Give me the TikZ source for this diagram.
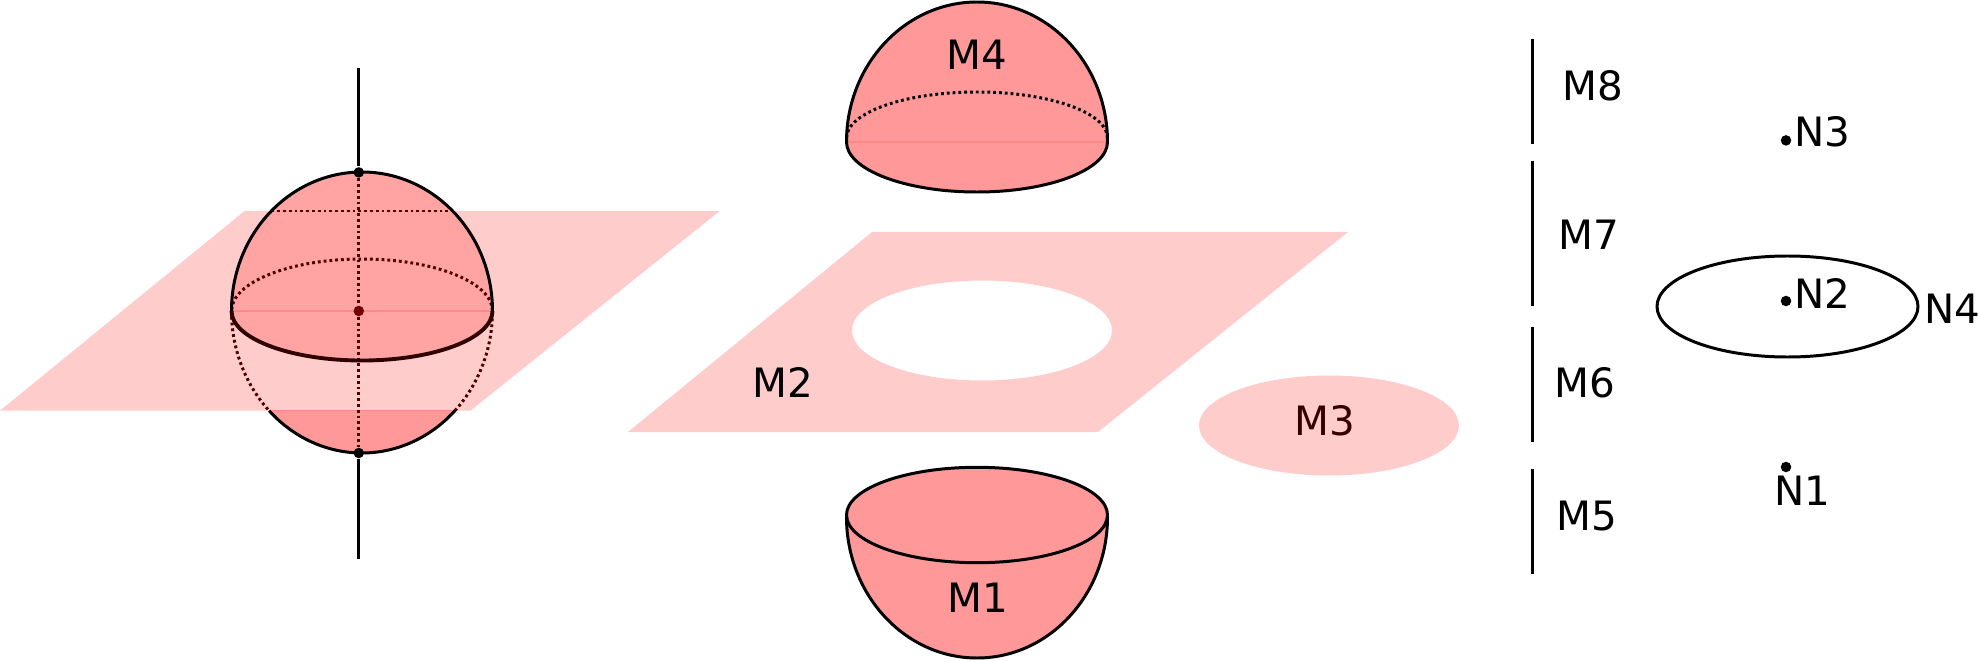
\documentclass[tikz,border=0pt]{standalone}
\usepackage{fontspec}
\setmainfont{DejaVu Sans}
\definecolor{sheet}{HTML}{FFCCCC}
\definecolor{solid part}{HTML}{FF9999}
\definecolor{overlap}{HTML}{FFA3A3}
\definecolor{seam}{HTML}{FF8888}
\definecolor{hidden}{HTML}{4D0000}
\tikzset{
  outline/.style={line width=0.85pt},
  dotline/.style={line width=0.85pt,dash pattern=on 0.8pt off 0.85pt},
  point/.style={circle,fill,inner sep=0pt,minimum size=0.105cm},
  lab/.style={font=\fontsize{11.5}{13}\selectfont},
}

\begin{document}
\begin{tikzpicture}[x=0.01cm,y=0.01cm]
  \useasboundingbox (0,0) rectangle (1978,660);

  % whole body
  \fill[sheet] (0,249.3) -- (244.5,449) -- (719.7,449) -- (470.5,249.3) -- cycle;
  \fill[overlap] (231.5,349) arc[start angle=180,end angle=0,x radius=130.5,y radius=139]
    arc[start angle=0,end angle=-180,x radius=130.5,y radius=49.5] -- cycle;
  \fill[solid part] (269.1,249.3) arc[start angle=224.6,end angle=315.4,x radius=130.5,y radius=142] -- cycle;
  \draw[seam,thin] (231.5,349) -- (492.5,349);
  \draw[seam,thin] (269.1,249.3) -- (454.9,249.3);

  \coordinate (axis top) at (358.8,592);
  \coordinate (axis bottom) at (358.8,101);
  \node[point] (pole top) at (358.8,487.6) {};
  \node[point] (pole bottom) at (358.8,207) {};
  \node[point,color=hidden!80!red] (centre) at (358.8,349) {};

  \draw[dotline,hidden] (pole top) -- (centre);
  \draw[dotline,hidden] (centre) -- (pole bottom);
  \draw[dotline,hidden] (271.3,449) -- (452.5,449);
  \draw[dotline,hidden] (492.5,349) arc[start angle=0,end angle=180,x radius=130.5,y radius=52];
  \draw[dotline,hidden] (231.5,349) arc[start angle=180,end angle=224.6,x radius=130.5,y radius=142];
  \draw[dotline,hidden] (454.9,249.3) arc[start angle=315.4,end angle=360,x radius=130.5,y radius=142];

  \draw[outline] (axis top) -- (pole top);
  \draw[outline] (pole bottom) -- (axis bottom);
  \draw[outline] (231.5,349) arc[start angle=180,end angle=0,x radius=130.5,y radius=139];
  \draw[outline] (269.1,249.3) arc[start angle=224.6,end angle=315.4,x radius=130.5,y radius=142];
  \draw[line width=1.1pt,hidden!60!black] (231.5,349) arc[start angle=180,end angle=360,x radius=130.5,y radius=49.5];

  % upper part
  \fill[solid part] (846.5,518) arc[start angle=180,end angle=0,x radius=130.5,y radius=140]
    arc[start angle=0,end angle=-180,x radius=130.5,y radius=50] -- cycle;
  \draw[seam,thin] (846.5,518) -- (1107.5,518);
  \draw[dotline] (1107.5,522) arc[start angle=0,end angle=180,x radius=130.5,y radius=46];
  \draw[outline] (846.5,518) arc[start angle=180,end angle=0,x radius=130.5,y radius=140]
    arc[start angle=0,end angle=-180,x radius=130.5,y radius=50] -- cycle;
  \node[lab] (M4) at (976.5,605) {M4};

  % sheet with hole
  \fill[sheet,even odd rule] (628,228) -- (872,428) -- (1348,428) -- (1098,228) -- cycle
    (982,329.5) ellipse[x radius=130,y radius=50];
  \node[lab] (M2) at (783,278) {M2};
  \fill[sheet] (1329,234.5) ellipse[x radius=130,y radius=50];
  \node[lab,color=hidden!70!black] (M3) at (1325,239) {M3};

  % lower part
  \fill[solid part] (846.5,143) arc[start angle=180,end angle=360,x radius=130.5,y radius=141]
    -- (1107.5,145) arc[start angle=0,end angle=180,x radius=130.5,y radius=47.7] -- cycle;
  \draw[outline] (846.5,143) arc[start angle=180,end angle=360,x radius=130.5,y radius=141];
  \draw[outline] (977,145) ellipse[x radius=130.5,y radius=47.7];
  \node[lab] (M1) at (977.5,62.4) {M1};

  % edges
  \foreach \name/\lo/\hi/\lx/\ly in {M8/516/621/1593/574.5,M7/354/499/1589/425,M6/218/333/1585/277.5,M5/86/191/1586.7/144.4} {
    \coordinate (\name lo) at (1532.5,\lo);
    \coordinate (\name hi) at (1532.5,\hi);
    \draw[outline] (\name lo) -- (\name hi);
    \node[lab] (\name) at (\lx,\ly) {\name};
  }

  % vertices and loop
  \draw[outline] (1787.5,353.5) ellipse[x radius=130.5,y radius=50.5];
  \node[lab] (N4) at (1952,351) {N4};
  \foreach \name/\py/\lx/\ly in {N3/519.6/1822.7/528,N2/359/1822/366.5,N1/193/1802/169} {
    \node[point] (\name p) at (1786,\py) {};
    \node[lab] (\name) at (\lx,\ly) {\name};
  }
\end{tikzpicture}
\end{document}
